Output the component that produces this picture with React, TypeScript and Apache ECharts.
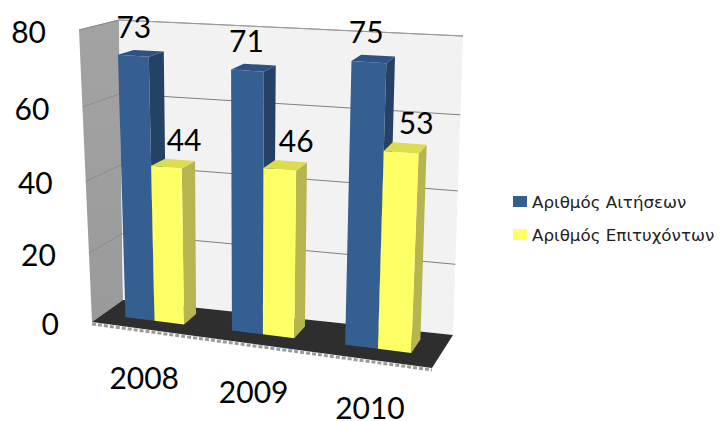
import React, { useEffect, useRef } from "react";
import * as echarts from "echarts";

const years = ["2008", "2009", "2010"];
const seriesNames = ["Αριθμός Αιτήσεων", "Αριθμός Επιτυχόντων"];
const applications = [73, 71, 75];
const successful = [44, 46, 53];
const ticks = [0, 20, 40, 60, 80];

type P = [number, number];
// Corners of the 3D box as seen on screen
const floorBL: P = [123, 300], floorBR: P = [453, 335], floorFL: P = [92, 322], floorFR: P = [432, 368];
const topBL: P = [119, 20], topBR: P = [463, 36], topFL: P = [79, 30], topFR: P = [447, 52];
const lerp = (a: P, b: P, t: number): P => [a[0] + (b[0] - a[0]) * t, a[1] + (b[1] - a[1]) * t];
// u along categories, z depth (0 back, 1 front), v height 0..1
const warpV = (v: number) => v * (0.928 + 0.072 * v);
const warpU = (c: number) => 0.906 * c + 0.09 * c * c;
function project(u: number, z: number, v: number): P {
  const floor = lerp(lerp(floorBL, floorBR, u), lerp(floorFL, floorFR, u), z);
  const top = lerp(lerp(topBL, topBR, u), lerp(topFL, topFR, u), z);
  return lerp(floor, top, warpV(v));
}
const BAR_W = 0.093, Z_FRONT = 0.65, Z_BACK = 0.23;

function norm(api: any, params: any, x: number, y: number): [number, number] {
  const p = api.coord([x, y]);
  const g = params.coordSys;
  return [(p[0] - g.x) / g.width, (g.y + g.height - p[1]) / g.height];
}
const poly = (points: P[], fill: any) => ({ type: "polygon", silent: true, shape: { points }, style: { fill, stroke: "none" } });
const line = (points: P[], stroke: string, lineWidth = 1, lineDash?: number[]) => ({
  type: "polyline", silent: true, shape: { points }, style: { stroke, lineWidth, fill: "none", lineDash },
});
const label = (text: string, x: number, y: number, align = "center", size = 30) => ({
  type: "text", silent: true,
  style: { text, x, y, fill: "#000", font: `${size}px Lato`, align, verticalAlign: "middle" },
});

function barSeries(name: string, values: number[], side: -1 | 1, front: any, right: string, top: string, lx: number, ly: number) {
  return {
    type: "custom", name, clip: false, itemStyle: { color: front },
    data: values.map((v, i) => [years[i], v]),
    encode: { x: 0, y: 1 },
    renderItem: (params: any, api: any) => {
      const cat = api.value(0);
      const val = api.value(1);
      const [c, v] = norm(api, params, cat, val);
      const c0 = side < 0 ? c - BAR_W : c;
      const c1 = side < 0 ? c : c + BAR_W;
      const u0 = warpU(c0), u1 = warpU(c1);
      const fb0 = project(u0, Z_FRONT, 0), fb1 = project(u1, Z_FRONT, 0);
      const ft0 = project(u0, Z_FRONT, v), ft1 = project(u1, Z_FRONT, v);
      const bb1 = project(u1, Z_BACK, 0), bt0 = project(u0, Z_BACK, v), bt1 = project(u1, Z_BACK, v);
      const cx = (ft0[0] + bt1[0]) / 2;
      return {
        type: "group",
        children: [
          poly([fb1, ft1, bt1, bb1], right),
          poly([ft0, ft1, bt1, bt0], top),
          poly([fb0, fb1, ft1, ft0], front),
          label(String(val), cx + lx, bt0[1] + ly),
        ],
      };
    },
  };
}

export default function App() {
  const ref = useRef<HTMLDivElement>(null);
  useEffect(() => {
    document.body.style.margin = "0";
    const chart = echarts.init(ref.current!, undefined, { renderer: "svg" });
    const grad = (a: string, b: string) =>
      new echarts.graphic.LinearGradient(0, 0, 0, 1, [{ offset: 0, color: a }, { offset: 1, color: b }]);
    const shifted = (p: P): P => [p[0], p[1] + 2];
    chart.setOption({
      animation: false,
      backgroundColor: "#ffffff",
      grid: { left: 0, top: 0, width: 721, height: 421, containLabel: false },
      xAxis: { type: "category", data: years, show: false },
      yAxis: { type: "value", min: 0, max: 80, interval: 20, show: false },
      legend: {
        orient: "vertical", left: 508, top: 188, itemWidth: 14, itemHeight: 11, itemGap: 16,
        icon: "rect", data: seriesNames,
        textStyle: { fontFamily: "DejaVu Sans", fontSize: 16.7, color: "#222", padding: [0, 0, 0, 0] },
        itemStyle: { borderWidth: 0 },
      },
      series: [
        {
          type: "custom", name: "walls", clip: false, silent: true, data: [[years[0], 0]],
          encode: { x: 0, y: 1 },
          renderItem: () => ({
            type: "group",
            children: [
              poly([topFL, topBL, floorBL, floorFL], grad("#a3a3a3", "#9a9a9a")),
              poly([topBL, topBR, floorBR, floorBL], "#f2f2f2"),
              line([shifted(floorFL), shifted(floorFR)], "#9c9c9c", 3, [4, 2]),
              poly([floorBL, floorBR, floorFR, floorFL], "#2e2e2e"),
              line([topFL, topBL, topBR], "#9a9a9a", 1),
            ],
          }),
        },
        {
          type: "custom", name: "ticks", clip: false, silent: true, data: ticks.map((t) => [years[0], t]),
          encode: { x: 0, y: 1 },
          renderItem: (params: any, api: any) => {
            const val = api.value(1);
            const [, v] = norm(api, params, 0, val);
            const a = project(0, 1, v), b = project(0, 0, v), d = project(1, 0, v);
            const tickText = label(String(val), a[0] - 33, a[1] + 1, "right");
            if (val === 0) return { type: "group", children: [tickText] };
            return {
              type: "group",
              children: [line([a, b], "#8c8c8c"), line([b, d], val === 80 ? "#9a9a9a" : "#808080"), tickText],
            };
          },
        },
        barSeries(seriesNames[0], applications, -1, "#355f91", "#254166", "#2d5283", -7, -24),
        barSeries(seriesNames[1], successful, 1, "#ffff66", "#b6b650", "#dcdc50", 11, -20),
        {
          type: "custom", name: "categories", clip: false, silent: true,
          data: years.map((y) => [y, 0]),
          encode: { x: 0, y: 1 },
          renderItem: (params: any, api: any) => {
            const cat = api.value(0);
            const [c] = norm(api, params, cat, 0);
            const p = project(warpU(c), 1, 0);
            return label(years[cat], p[0], p[1] + 47.5);
          },
        },
      ],
    });
    return () => chart.dispose();
  }, []);
  return <div ref={ref} style={{ position: "absolute", left: 0, top: 0, width: 721, height: 421 }} />;
}
